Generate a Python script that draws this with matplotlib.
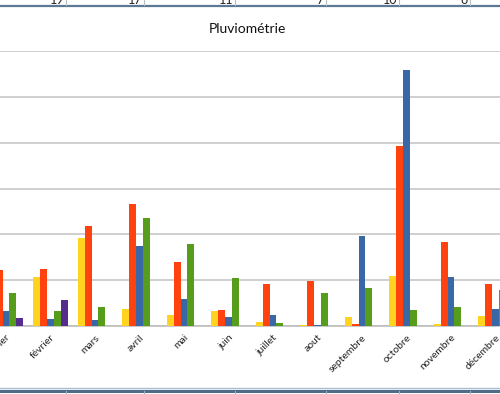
import matplotlib
matplotlib.use("Agg")
import matplotlib.pyplot as plt
import numpy as np
from matplotlib.lines import Line2D

plt.rcParams['font.family'] = ['Lato', 'DejaVu Sans']

## months on the x axis
mois = ['janvier', 'février', 'mars', 'avril', 'mai', 'juin', 'juillet',
        'aout', 'septembre', 'octobre', 'novembre', 'décembre']

## rainfall per series (mm)
jaune  = [45, 54, 96, 19, 12, 16, 4.4, 1.5, 10, 55, 2, 11]
orange = [61, 62, 109, 133, 70, 17.5, 46, 49.5, 2, 196, 92, 46]
bleu   = [16, 8, 7, 87, 29, 9.5, 12, 1, 98, 279.5, 53.5, 19]
vert   = [36, 16, 21, 118, 89, 52, 3.6, 36, 42, 17, 21, 39]
violet = [9, 28, 0, 0, 0, 0, 0, 0, 0, 0, 0, 0]

series = [jaune, orange, bleu, vert, violet]
couleurs = ['#FFD320', '#FF420E', '#3A67A6', '#579D1C', '#562C8C']

## spreadsheet row above the chart (only the bottom of the digits shows)
haut_valeurs = ['19', '17', '11', '7', '10', '6']
cellules = [66, 144, 235, 326, 399, 470]   # column borders, px

W, H = 500, 394
fig = plt.figure(figsize=(W/100, H/100), dpi=100)
fig.patch.set_facecolor('white')

## plot area: baseline at 326 px, top at 51 px
ax = fig.add_axes([0, (H-326)/H, 1, 275/H])
x = np.arange(len(mois))
w = 0.1546
for k, (vals, c) in enumerate(zip(series, couleurs)):
    ax.bar(x + (k-2)*w, vals, width=w, color=c, linewidth=0, zorder=3)

ax.set_xlim(-6.0/44.5, (W-6.0)/44.5)
ax.set_ylim(0, 300)
ax.set_yticks(np.arange(0, 301, 50))
ax.yaxis.grid(True, color='#cfcfcf', linewidth=1.4)
ax.set_axisbelow(True)
ax.tick_params(axis='y', left=False, labelleft=False)
ax.tick_params(axis='x', length=0, pad=5)
ax.set_xticks(x)
ax.set_xticklabels(mois, rotation=45, ha='right', va='top',
                   rotation_mode='anchor', fontsize=7.5, color='#222222')
for s in ['left', 'right', 'top']:
    ax.spines[s].set_visible(False)
ax.spines['bottom'].set_color('#bdbdbd')
ax.spines['bottom'].set_linewidth(1.2)

fig.text(247/W, 1 - 29/H, 'Pluviométrie', ha='center', va='center',
         fontsize=10, color='#111111')

## spreadsheet cell borders around the chart
fig.add_artist(Line2D([0, 1], [1 - 5.5/H]*2, color='#5b7896', lw=1.6))
fig.add_artist(Line2D([0, 1], [1 - 388/H]*2, color='#a9bccf', lw=1.0))
fig.add_artist(Line2D([0, 1], [1 - 390.5/H]*2, color='#4f6b8a', lw=2.2))
for cx in cellules:
    fig.add_artist(Line2D([cx/W]*2, [1, 1 - 5/H], color='#b8c0c8', lw=0.8))
    fig.add_artist(Line2D([cx/W]*2, [1 - 391/H, 0], color='#a8b0b8', lw=0.8))
for cx, t in zip(cellules, haut_valeurs):
    fig.text((cx - 2)/W, 1 - 4/H, t, ha='right', va='baseline',
             fontsize=9, color='#222222')

fig.savefig('out.png', dpi=100, facecolor='white')
